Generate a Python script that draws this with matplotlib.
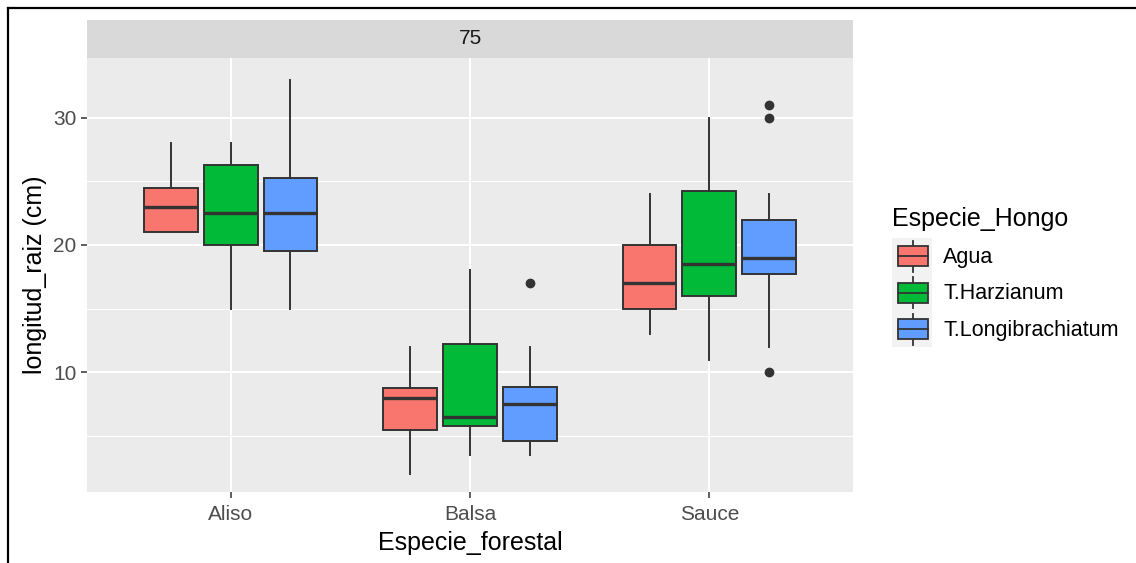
import matplotlib
matplotlib.use("Agg")
import matplotlib.pyplot as plt
from matplotlib.lines import Line2D
from matplotlib.patches import Rectangle

plt.rcParams['font.family'] = ['Liberation Sans', 'DejaVu Sans']

# Root length (cm) by forest species and fungus treatment
especies = ['Aliso', 'Balsa', 'Sauce']
hongos = ['Agua', 'T.Harzianum', 'T.Longibrachiatum']
colores = ['#F8766D', '#00BA38', '#619CFF']

# five-number summaries per species, one list per fungus
whislo = {'Agua': [21, 2, 13], 'T.Harzianum': [15, 3.5, 11], 'T.Longibrachiatum': [15, 3.5, 12]}
q1 = {'Agua': [21, 5.5, 15], 'T.Harzianum': [20, 5.75, 16], 'T.Longibrachiatum': [19.5, 4.6, 17.75]}
med = {'Agua': [23, 8, 17], 'T.Harzianum': [22.5, 6.5, 18.5], 'T.Longibrachiatum': [22.5, 7.5, 19]}
q3 = {'Agua': [24.5, 8.75, 20], 'T.Harzianum': [26.25, 12.25, 24.25], 'T.Longibrachiatum': [25.25, 8.85, 22]}
whishi = {'Agua': [28, 12, 24], 'T.Harzianum': [28, 18, 30], 'T.Longibrachiatum': [33, 12, 24]}
outliers = {'Agua': [[], [], []], 'T.Harzianum': [[], [], []],
            'T.Longibrachiatum': [[], [17], [10, 30, 31]]}

W, H = 1136, 563
fig = plt.figure(figsize=(W / 100, H / 100), dpi=100, facecolor='white')

def px_axes(x0, y0, x1, y1):
    return fig.add_axes([x0 / W, 1 - y1 / H, (x1 - x0) / W, (y1 - y0) / H])

ax = px_axes(87, 58, 853, 492.3)
ax.set_facecolor('#EBEBEB')
for s in ax.spines.values():
    s.set_visible(False)

ax.set_xlim(-0.6, 2.6)
ax.set_ylim(0.57, 34.69)
ax.set_xticks(range(len(especies)))
ax.set_xticklabels(especies)
ax.set_yticks([10, 20, 30])
ax.set_yticks([5, 15, 25], minor=True)
ax.tick_params(axis='both', which='major', length=4.5, width=1.1, color='#333333',
               labelsize=15, labelcolor='#4D4D4D', pad=3)
ax.tick_params(axis='x', which='major', pad=5)
ax.tick_params(axis='y', which='minor', length=0)
ax.grid(which='major', color='white', linewidth=1.5)
ax.grid(which='minor', axis='y', color='white', linewidth=0.8)
ax.set_axisbelow(True)

offsets = [-0.25, 0, 0.25]
edge = '#333333'
for k, hongo in enumerate(hongos):
    stats = []
    for i in range(len(especies)):
        stats.append(dict(med=med[hongo][i], q1=q1[hongo][i], q3=q3[hongo][i],
                          whislo=whislo[hongo][i], whishi=whishi[hongo][i],
                          fliers=outliers[hongo][i]))
    pos = [i + offsets[k] for i in range(len(especies))]
    ax.bxp(stats, positions=pos, widths=0.225, patch_artist=True, showcaps=False,
           manage_ticks=False,
           boxprops=dict(facecolor=colores[k], edgecolor=edge, linewidth=1.4),
           medianprops=dict(color=edge, linewidth=2.4, solid_capstyle='butt'),
           whiskerprops=dict(color=edge, linewidth=1.4),
           flierprops=dict(marker='o', markerfacecolor=edge, markeredgecolor=edge,
                           markersize=6))

ax.set_xlabel('Especie_forestal', fontsize=18, color='black', va='center')
ax.set_ylabel('longitud_raiz (cm)', fontsize=18, color='black', va='center')
ax.xaxis.set_label_coords(0.5, (492.3 - 543) / 434.3)
ax.yaxis.set_label_coords((35 - 87) / 766, 0.5)

# facet strip
strip = px_axes(87, 20, 853, 58)
strip.set_facecolor('#D9D9D9')
strip.set_xticks([])
strip.set_yticks([])
for s in strip.spines.values():
    s.set_visible(False)
strip.text(0.5, 0.5, '75', ha='center', va='center', fontsize=15, color='#1A1A1A')

# legend
leg = px_axes(880, 190, 1136, 360)
leg.set_xlim(880, 1136)
leg.set_ylim(360, 190)
leg.axis('off')
leg.text(892, 219, 'Especie_Hongo', fontsize=18, va='center', ha='left', color='black')
key_top = 238.3
key_h = 36.3
for k, hongo in enumerate(hongos):
    y0 = key_top + k * key_h
    leg.add_patch(Rectangle((891.7, y0), 40, key_h, facecolor='#F2F2F2', edgecolor='none'))
    cy = y0 + key_h / 2
    leg.plot([912.5, 912.5], [cy - 15.5, cy + 15.5], color=edge, linewidth=1.3)
    leg.add_patch(Rectangle((897.5, cy - 10), 30, 20, facecolor=colores[k],
                            edgecolor=edge, linewidth=1.3, zorder=3))
    leg.plot([897.5, 927.5], [cy, cy], color=edge, linewidth=1.3, zorder=4)
    leg.text(943, cy + 1, hongo, fontsize=15.5, va='center', ha='left', color='black')

# outer frame lines (top and left)
fig.add_artist(Line2D([8 / W, 1], [1 - 8 / H, 1 - 8 / H], color='black', linewidth=1.6))
fig.add_artist(Line2D([8 / W, 8 / W], [0, 1 - 8 / H], color='black', linewidth=1.6))

fig.savefig('out.png', dpi=100, facecolor='white')
